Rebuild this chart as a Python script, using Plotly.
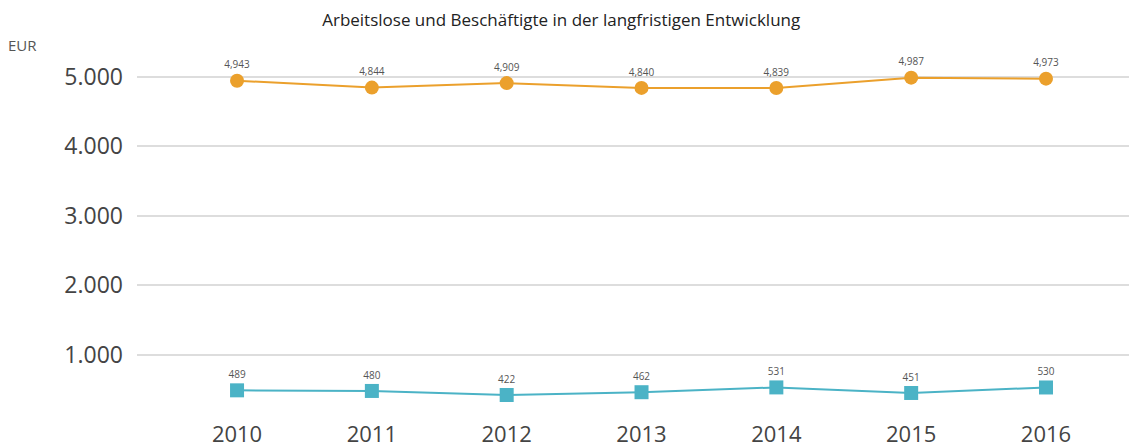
import plotly.graph_objects as go

years = ["2010", "2011", "2012", "2013", "2014", "2015", "2016"]
employed = [4943, 4844, 4909, 4840, 4839, 4987, 4973]
unemployed = [489, 480, 422, 462, 531, 451, 530]
y_ticks = [1000, 2000, 3000, 4000, 5000]
y_tick_labels = ["1.000", "2.000", "3.000", "4.000", "5.000"]

def fmt(v):
    return f"{v:,}"

fig = go.Figure()
fig.add_trace(go.Scatter(
    x=years, y=employed, mode="lines+markers+text",
    line=dict(color="#EBA02C", width=2),
    marker=dict(symbol="circle", size=14, color="#EBA02C"),
    text=[fmt(v) for v in employed], textposition="top center",
    textfont=dict(size=10, color="#555555"),
    showlegend=False, cliponaxis=False,
))
fig.add_trace(go.Scatter(
    x=years, y=unemployed, mode="lines+markers+text",
    line=dict(color="#4BB3C6", width=2),
    marker=dict(symbol="square", size=14, color="#4BB3C6"),
    text=[fmt(v) for v in unemployed], textposition="top center",
    textfont=dict(size=10, color="#555555"),
    showlegend=False, cliponaxis=False,
))

fig.update_layout(
    width=1129, height=440,
    margin=dict(l=129, r=0, t=32, b=28),
    paper_bgcolor="white", plot_bgcolor="white",
    font=dict(family="Open Sans, Noto Sans, sans-serif", color="#444444"),
    title=dict(text="Arbeitslose und Beschäftigte in der langfristigen Entwicklung",
               x=0.49, xanchor="center", y=0.972, yanchor="middle",
               font=dict(size=17, color="#222222")),
    xaxis=dict(type="category", range=[-0.742, 6.675], showgrid=False,
               showline=False, zeroline=False, ticks="", ticklabelstandoff=9,
               tickfont=dict(size=22, color="#444444")),
    yaxis=dict(range=[206, 5529], tickvals=y_ticks, ticktext=y_tick_labels,
               showgrid=True, gridcolor="#DDDDDD", gridwidth=2,
               zeroline=False, showline=False, ticks="", ticklabelstandoff=13,
               tickfont=dict(size=23, color="#444444")),
    annotations=[dict(text="EUR", xref="paper", yref="paper", x=-0.115, y=0.987,
                      xanchor="center", yanchor="middle", showarrow=False,
                      font=dict(size=15, color="#555555"))],
)

fig.write_html("out.html")
